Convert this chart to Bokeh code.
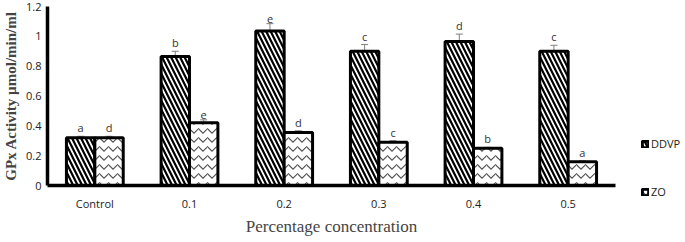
from bokeh.plotting import figure
from bokeh.models import ColumnDataSource, Whisker, Legend, LegendItem, Range1d, FactorRange
from bokeh.transform import dodge
from bokeh.core.properties import value
from bokeh.embed import file_html
from bokeh.resources import INLINE

categories = ["Control", "0.1", "0.2", "0.3", "0.4", "0.5"]
ddvp = [0.32, 0.865, 1.035, 0.90, 0.965, 0.90]
ddvp_err = [0.01, 0.035, 0.05, 0.045, 0.05, 0.04]
ddvp_letters = ["a", "b", "e", "c", "d", "c"]
zo = [0.32, 0.42, 0.355, 0.29, 0.25, 0.16]
zo_err = [0.01, 0.02, 0.012, 0.01, 0.006, 0.006]
zo_letters = ["d", "e", "d", "c", "b", "a"]
y_ticks = [0, 0.2, 0.4, 0.6, 0.8, 1, 1.2]

src = ColumnDataSource(dict(
    cat=categories,
    ddvp=ddvp, ddvp_lo=[v - e for v, e in zip(ddvp, ddvp_err)], ddvp_hi=[v + e for v, e in zip(ddvp, ddvp_err)],
    ddvp_lab=ddvp_letters,
    zo=zo, zo_lo=[v - e for v, e in zip(zo, zo_err)], zo_hi=[v + e for v, e in zip(zo, zo_err)],
    zo_lab=zo_letters,
))

p = figure(x_range=FactorRange(*categories, range_padding=0), y_range=Range1d(0, 1.2),
           output_backend="svg", toolbar_location=None,
           min_border_top=6, min_border_bottom=0, min_border_left=0, min_border_right=0)
p.frame_width = 568
p.frame_height = 179
p.outline_line_color = None
p.xgrid.grid_line_color = None
p.ygrid.grid_line_color = None
p.background_fill_color = "white"

ddvp_r = p.vbar(x=dodge("cat", -0.15, range=p.x_range), top="ddvp", width=0.3, source=src,
                fill_color="white", line_color="black", line_width=3,
                hatch_pattern="left_diagonal_line", hatch_color="black", hatch_weight=2.2, hatch_scale=9)
zo_r = p.vbar(x=dodge("cat", 0.15, range=p.x_range), top="zo", width=0.3, source=src,
              fill_color="white", line_color="black", line_width=3,
              hatch_pattern="horizontal_wave", hatch_color="#505050", hatch_weight=1.1, hatch_scale=9)

for off, lo, hi in [(-0.15, "ddvp_lo", "ddvp_hi"), (0.15, "zo_lo", "zo_hi")]:
    w = Whisker(base=dodge("cat", off, range=p.x_range), lower=lo, upper=hi, source=src,
                line_color="#7f7f7f", line_width=1)
    w.upper_head.size = 7
    w.lower_head.size = 7
    w.upper_head.line_color = "#7f7f7f"
    w.lower_head.line_color = "#7f7f7f"
    p.add_layout(w)

p.text(x=dodge("cat", -0.15, range=p.x_range), y="ddvp_hi", text="ddvp_lab", source=src,
       text_align="center", text_baseline="bottom", y_offset=-1,
       text_font=value("Open Sans"), text_font_size="11px", text_color="#333333")
p.text(x=dodge("cat", 0.15, range=p.x_range), y="zo_hi", text="zo_lab", source=src,
       text_align="center", text_baseline="bottom", y_offset=-1,
       text_font=value("Open Sans"), text_font_size="11px", text_color="#333333")

p.yaxis.ticker = y_ticks
p.yaxis.major_label_overrides = {0: "0", 0.2: "0.2", 0.4: "0.4", 0.6: "0.6", 0.8: "0.8", 1: "1", 1.2: "1.2"}
for ax in (p.xaxis, p.yaxis):
    ax.axis_line_width = 3.5
    ax.axis_line_color = "black"
    ax.major_tick_line_color = None
    ax.minor_tick_line_color = None
    ax.major_tick_out = 0
    ax.major_tick_in = 0
    ax.major_label_text_font = "Open Sans"
    ax.major_label_text_font_size = "11px"
    ax.major_label_text_color = "#222222"
p.xaxis.major_label_standoff = 10
p.yaxis.major_label_standoff = 6
p.xaxis.axis_label = "Percentage concentration"
p.xaxis.axis_label_text_font = "Liberation Serif"
p.xaxis.axis_label_text_font_style = "normal"
p.xaxis.axis_label_text_font_size = "17px"
p.xaxis.axis_label_standoff = 3
p.yaxis.axis_label = "GPx Activity µmol/min/ml"
p.yaxis.axis_label_text_font = "Liberation Serif"
p.yaxis.axis_label_text_font_style = "bold"
p.yaxis.axis_label_text_font_size = "15px"
p.yaxis.axis_label_standoff = 4

legend = Legend(items=[LegendItem(label="DDVP", renderers=[ddvp_r]),
                       LegendItem(label="ZO", renderers=[zo_r])],
                border_line_color=None, background_fill_alpha=0,
                label_text_font="Open Sans", label_text_font_size="11px",
                label_text_color="#222222",
                glyph_width=8, glyph_height=8, label_standoff=2, spacing=33,
                padding=0, margin=0, label_height=12)
p.add_layout(legend, "right")
legend.location = (26, -14)

open("out.html", "w").write(file_html(p, INLINE))
